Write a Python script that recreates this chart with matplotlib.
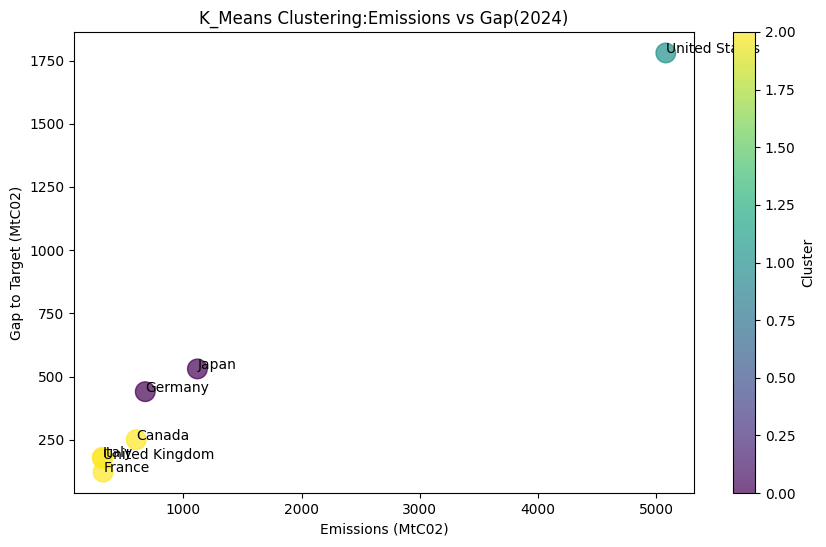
import matplotlib
matplotlib.use("Agg")
import matplotlib.pyplot as plt

countries = ["United States", "Japan", "Germany", "Canada", "United Kingdom", "Italy", "France"]
emissions = [5080, 1119, 678, 602, 318, 314, 322]
gap = [1780, 530, 440, 250, 175, 180, 122]
cluster = [1, 0, 0, 2, 2, 2, 2]

fig = plt.figure(figsize=(8.26, 5.47), dpi=100)
ax = fig.add_axes([0.0896, 0.0987, 0.7506, 0.8428])
cax = fig.add_axes([0.8874, 0.0987, 0.0266, 0.8428])

sc = ax.scatter(emissions, gap, c=cluster, cmap="viridis", s=200, alpha=0.7)
for name, x, y in zip(countries, emissions, gap):
    ax.text(x, y, name)

cb = fig.colorbar(sc, cax=cax)
cb.set_label("Cluster")

ax.set_title("K_Means Clustering:Emissions vs Gap(2024)")
ax.set_xlabel("Emissions (MtC02)")
ax.set_ylabel("Gap to Target (MtC02)")

fig.savefig("out.png", dpi=100)
